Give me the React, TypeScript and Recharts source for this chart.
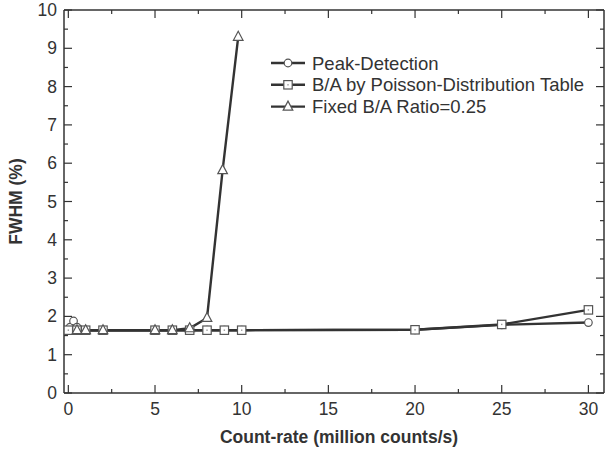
import React from 'react';
import { LineChart, Line, XAxis, YAxis, Label } from 'recharts';

// count-rate (million counts/s) and FWHM (%)
const peakX = [0.1, 0.3, 0.5, 1, 2, 5, 6, 7, 8, 9, 10, 20, 25, 30];
const peakY = [1.72, 1.88, 1.72, 1.64, 1.64, 1.64, 1.64, 1.64, 1.64, 1.64, 1.64, 1.65, 1.78, 1.84];

const poissonX = [0, 0.5, 1, 2, 5, 6, 7, 8, 9, 10, 20, 25, 30];
const poissonY = [1.64, 1.64, 1.64, 1.64, 1.64, 1.64, 1.64, 1.64, 1.64, 1.64, 1.65, 1.79, 2.17];

const fixedX = [0.5, 1, 2, 5, 6, 7, 8, 8.9, 9.8];
const fixedY = [1.64, 1.64, 1.64, 1.64, 1.64, 1.69, 1.96, 5.82, 9.3];

const xTicks = [0, 2.5, 5, 7.5, 10, 12.5, 15, 17.5, 20, 22.5, 25, 27.5, 30];
const yTicks = [0, 0.5, 1, 1.5, 2, 2.5, 3, 3.5, 4, 4.5, 5, 5.5, 6, 6.5, 7, 7.5, 8, 8.5, 9, 9.5, 10];

const seriesNames = ['Peak-Detection', 'B/A by Poisson-Distribution Table', 'Fixed B/A Ratio=0.25'];
const xTitle = 'Count-rate (million counts/s)';
const yTitle = 'FWHM (%)';

const toPoints = (xs: number[], ys: number[]) => xs.map((x, i) => ({ x, y: ys[i] }));

const FONT = '"Liberation Sans", Arial, sans-serif';
const INK = '#333';
const MARK = '#555';

const CircleDot = ({ cx, cy }: any) => (
  <circle cx={cx} cy={cy} r={3.8} fill="#fff" stroke={MARK} strokeWidth={1.2} />
);
const SquareDot = ({ cx, cy }: any) => (
  <g>
    <rect x={cx - 4.2} y={cy - 4.2} width={8.4} height={8.4} fill="#fff" stroke={MARK} strokeWidth={1.2} />
    <rect x={cx - 0.7} y={cy - 0.7} width={1.4} height={1.4} fill="#999" />
  </g>
);
const TriangleDot = ({ cx, cy }: any) => (
  <polygon
    points={`${cx},${cy - 5.5} ${cx + 4.8},${cy + 3.5} ${cx - 4.8},${cy + 3.5}`}
    fill="#fff"
    stroke={MARK}
    strokeWidth={1.2}
  />
);

const isMajor = (v: number, step: number) => Math.abs(v / step - Math.round(v / step)) < 1e-6;

const BottomTick = ({ x, y, payload }: any) => {
  const major = isMajor(payload.value, 5);
  return (
    <g>
      <line x1={x} x2={x} y1={y} y2={y - (major ? 8 : 4)} stroke={INK} strokeWidth={1.2} />
      {major && (
        <text x={x} y={y + 22} textAnchor="middle" fontSize={17.5} fontFamily={FONT} fill={INK}>
          {payload.value}
        </text>
      )}
    </g>
  );
};
const TopTick = ({ x, y, payload }: any) => {
  const major = isMajor(payload.value, 5);
  return <line x1={x} x2={x} y1={y} y2={y + (major ? 8 : 4)} stroke={INK} strokeWidth={1.2} />;
};
const LeftTick = ({ x, y, payload }: any) => {
  const major = isMajor(payload.value, 1);
  return (
    <g>
      <line x1={x} x2={x + (major ? 8 : 4)} y1={y} y2={y} stroke={INK} strokeWidth={1.2} />
      {major && (
        <text x={x - 7} y={y + 6} textAnchor="end" fontSize={17.5} fontFamily={FONT} fill={INK}>
          {payload.value}
        </text>
      )}
    </g>
  );
};
const RightTick = ({ x, y, payload }: any) => {
  const major = isMajor(payload.value, 1);
  return <line x1={x} x2={x - (major ? 8 : 4)} y1={y} y2={y} stroke={INK} strokeWidth={1.2} />;
};

const YTitle = ({ viewBox }: any) => (
  <text
    transform={`translate(16, ${viewBox.y + viewBox.height / 2}) rotate(-90)`}
    textAnchor="middle"
    dominantBaseline="central"
    fontSize={17.5}
    fontWeight="bold"
    fontFamily={FONT}
    fill={INK}
  >
    {yTitle}
  </text>
);

const legendDots = [CircleDot, SquareDot, TriangleDot];

const Legend = () => (
  <svg width={614} height={453} style={{ position: 'absolute', left: 0, top: 0, pointerEvents: 'none' }}>
    {seriesNames.map((name, i) => {
      const cy = 63 + i * 21.8;
      const Dot = legendDots[i];
      return (
        <g key={name}>
          <line x1={271} x2={305} y1={cy} y2={cy} stroke={INK} strokeWidth={2.4} />
          <Dot cx={288} cy={cy} />
          <text x={312} y={cy + 6.5} fontSize={18.5} fontFamily={FONT} fill={INK}>
            {name}
          </text>
        </g>
      );
    })}
  </svg>
);

export default function App() {
  const domainX: [number, number] = [-0.25, 30.9];
  const domainY: [number, number] = [0, 10];
  const frame = { stroke: INK, strokeWidth: 1.5 };
  return (
    <div style={{ position: 'absolute', left: 0, top: 0, width: 614, height: 453, background: '#fff' }}>
      <LineChart width={614} height={453} margin={{ top: 9, right: 9, left: 0, bottom: 0 }}>
        <XAxis
          xAxisId="b"
          type="number"
          dataKey="x"
          domain={domainX}
          ticks={xTicks}
          interval={0}
          height={60}
          tickSize={0}
          tickMargin={0}
          tickLine={false}
          tick={<BottomTick />}
          axisLine={frame}
          allowDataOverflow
        >
          <Label
            value={xTitle}
            position="insideBottom"
            offset={10}
            dx={5}
            style={{ fontSize: 17.5, fontWeight: 'bold', fontFamily: FONT, fill: INK }}
          />
        </XAxis>
        <XAxis
          xAxisId="t"
          orientation="top"
          type="number"
          dataKey="x"
          domain={domainX}
          ticks={xTicks}
          interval={0}
          height={1}
          tickSize={0}
          tickMargin={0}
          tickLine={false}
          tick={<TopTick />}
          axisLine={frame}
          allowDataOverflow
        />
        <YAxis
          yAxisId="l"
          type="number"
          domain={domainY}
          ticks={yTicks}
          interval={0}
          width={64}
          tickSize={0}
          tickMargin={0}
          tickLine={false}
          tick={<LeftTick />}
          axisLine={frame}
          label={<Label content={<YTitle />} />}
          allowDataOverflow
        />
        <YAxis
          yAxisId="r"
          orientation="right"
          type="number"
          domain={domainY}
          ticks={yTicks}
          interval={0}
          width={1}
          tickSize={0}
          tickMargin={0}
          tickLine={false}
          tick={<RightTick />}
          axisLine={frame}
          allowDataOverflow
        />
        {/* invisible copy so the mirrored frame axes have a series bound to them */}
        <Line
          xAxisId="t"
          yAxisId="r"
          data={toPoints(poissonX, poissonY)}
          dataKey="y"
          stroke="none"
          dot={false}
          activeDot={false}
          legendType="none"
          isAnimationActive={false}
        />
        <Line
          xAxisId="b"
          yAxisId="l"
          data={toPoints(peakX, peakY)}
          dataKey="y"
          name={seriesNames[0]}
          type="linear"
          stroke="#333"
          strokeWidth={2.4}
          dot={<CircleDot />}
          isAnimationActive={false}
        />
        <Line
          xAxisId="b"
          yAxisId="l"
          data={toPoints(poissonX, poissonY)}
          dataKey="y"
          name={seriesNames[1]}
          type="linear"
          stroke="#333"
          strokeWidth={2.4}
          dot={<SquareDot />}
          isAnimationActive={false}
        />
        <Line
          xAxisId="b"
          yAxisId="l"
          data={toPoints(fixedX, fixedY)}
          dataKey="y"
          name={seriesNames[2]}
          type="linear"
          stroke="#333"
          strokeWidth={2.4}
          dot={<TriangleDot />}
          isAnimationActive={false}
        />
      </LineChart>
      <Legend />
    </div>
  );
}
